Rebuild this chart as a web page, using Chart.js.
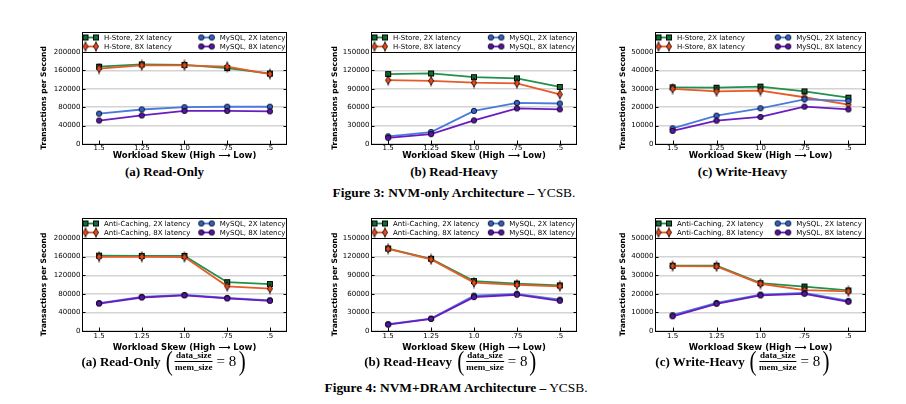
<!DOCTYPE html>
<html><head><meta charset="utf-8">
<script src="https://cdn.jsdelivr.net/npm/chart.js@4.4.0/dist/chart.umd.min.js"></script>
<style>
html,body{margin:0;padding:0;background:#fff;}
body{width:906px;height:404px;position:relative;overflow:hidden;}
canvas{position:absolute;}
.cap{position:absolute;transform:translate(-50%,-50%);font-family:'Liberation Serif','Times New Roman',serif;font-weight:bold;font-size:13px;white-space:nowrap;color:#000;line-height:1;}
.fig{position:absolute;transform:translate(-50%,-50%);font-family:'Liberation Serif','Times New Roman',serif;font-size:13.4px;white-space:nowrap;color:#000;line-height:1;}
.fig b{font-weight:bold;}
.cap2{position:absolute;transform:translate(-50%,-50%);font-family:'Liberation Serif','Times New Roman',serif;white-space:nowrap;color:#000;display:flex;align-items:center;line-height:1;}
.cap2 .t{font-weight:bold;font-size:13px;margin-right:4px;}
.cap2 .p{font-size:28px;font-weight:normal;transform:scaleX(0.75);display:inline-block;}
.cap2 .fr{display:inline-flex;flex-direction:column;align-items:center;font-weight:bold;font-size:9px;margin:0 1px;}
.cap2 .fr .n{border-bottom:1px solid #000;padding:0 1px 1px 1px;}
.cap2 .fr .d{padding-top:1px;}
.cap2 .e{font-size:15px;margin:0 1px 0 3px;}
</style></head><body>
<script>
// ---------- data ----------
const skewLabels = ['1.5', '1.25', '1.0', '.75', '.5'];
const skewPositions = [0, 1, 2, 3, 4];
const readOnlyTicks = [0, 40000, 80000, 120000, 160000, 200000];
const readHeavyTicks = [0, 30000, 60000, 90000, 120000, 150000];
const writeHeavyTicks = [0, 10000, 20000, 30000, 40000, 50000];

// Figure 3: NVM-only
const nvmReadOnlyHStore2x = [168000, 173000, 172000, 165000, 153000];
const nvmReadOnlyHStore8x = [164000, 171000, 171000, 168000, 152000];
const nvmReadOnlyMySQL2x = [66000, 75000, 80000, 81000, 81000];
const nvmReadOnlyMySQL8x = [51000, 62000, 72000, 72000, 71000];

const nvmReadHeavyHStore2x = [114000, 115000, 109000, 107000, 93000];
const nvmReadHeavyHStore8x = [104000, 103000, 100000, 99000, 81000];
const nvmReadHeavyMySQL2x = [12500, 19500, 54000, 67000, 66000];
const nvmReadHeavyMySQL8x = [10000, 16000, 38500, 58000, 56500];

const nvmWriteHeavyHStore2x = [30800, 30600, 31200, 28600, 25200];
const nvmWriteHeavyHStore8x = [30000, 28600, 29000, 25400, 21400];
const nvmWriteHeavyMySQL2x = [8500, 15400, 19400, 24300, 23400];
const nvmWriteHeavyMySQL8x = [7100, 12700, 14700, 20300, 18800];

// Figure 4: NVM+DRAM
const dramReadOnlyAC2x = [162000, 161500, 161500, 105000, 101000];
const dramReadOnlyAC8x = [159500, 159500, 159000, 96000, 91000];
const dramReadOnlyMySQL2x = [60000, 73500, 77500, 71000, 66000];
const dramReadOnlyMySQL8x = [59000, 72000, 76500, 70000, 65000];

const dramReadHeavyAC2x = [133000, 116500, 80500, 76500, 73500];
const dramReadHeavyAC8x = [132500, 115500, 78000, 74500, 72000];
const dramReadHeavyMySQL2x = [11000, 20000, 57000, 60000, 50500];
const dramReadHeavyMySQL8x = [10300, 19500, 54700, 58500, 48700];

const dramWriteHeavyAC2x = [35100, 35100, 25700, 23900, 21800];
const dramWriteHeavyAC8x = [34900, 34700, 25400, 22000, 21300];
const dramWriteHeavyMySQL2x = [8500, 15100, 19600, 20500, 16200];
const dramWriteHeavyMySQL8x = [7900, 14600, 19100, 20000, 15700];

// ---------- styles ----------
const C = {
  green: '#23904c', greenFill: '#0e6e30',
  red: '#e85a26', redFill: '#e8481a',
  blue: '#4a7bdc', blueFill: '#2f62c8',
  purple: '#6b1cc0', purpleFill: '#5b12a8'
};
function mk(w, h, draw) { const c = document.createElement('canvas'); c.width = w; c.height = h; draw(c.getContext('2d')); return c; }
const mSquare = mk(8, 8, g => { g.fillStyle = C.greenFill; g.fillRect(1, 1, 6, 6); g.strokeStyle = '#000'; g.lineWidth = 1; g.strokeRect(1.5, 1.5, 5, 5); });
const mDiamond = mk(8, 12, g => {
  g.strokeStyle = '#000'; g.lineWidth = 0.9;
  g.beginPath(); g.moveTo(4, 0.5); g.lineTo(4, 11.5); g.stroke();
  g.beginPath(); g.moveTo(4, 2); g.lineTo(6.6, 6); g.lineTo(4, 10); g.lineTo(1.4, 6); g.closePath();
  g.fillStyle = C.redFill; g.fill(); g.lineWidth = 0.8; g.stroke();
});
function circ(fill) { return mk(8, 8, g => { g.beginPath(); g.arc(4, 4, 2.7, 0, Math.PI * 2); g.fillStyle = fill; g.fill(); g.strokeStyle = '#000'; g.lineWidth = 0.8; g.stroke(); }); }
const mBlue = circ(C.blueFill), mPurple = circ(C.purpleFill);

const framePlugin = {
  id: 'frame',
  afterDraw(chart) {
    const { ctx, chartArea: { left, top, right, bottom } } = chart;
    const ys = chart.scales.y, xs = chart.scales.x;
    const o = chart.options.plugins.frame;
    ctx.save();
    ctx.strokeStyle = '#000'; ctx.lineWidth = 1;
    ctx.beginPath();
    ys.ticks.forEach(t => {
      const y = Math.round(ys.getPixelForValue(t.value)) + 0.5;
      ctx.moveTo(left, y); ctx.lineTo(left + 3.5, y);
      ctx.moveTo(right, y); ctx.lineTo(right - 3.5, y);
    });
    xs.ticks.forEach(t => {
      const x = Math.round(xs.getPixelForValue(t.value)) + 0.5;
      ctx.moveTo(x, bottom); ctx.lineTo(x, bottom - 3.5);
    });
    ctx.stroke();
    ctx.strokeRect(left + 0.5, top + 0.5, right - left - 1, bottom - top);
    // legend box above axes
    const lt = top - 20;
    ctx.fillStyle = '#fff';
    ctx.fillRect(left + 0.5, lt + 0.5, right - left - 1, 20);
    ctx.strokeRect(left + 0.5, lt + 0.5, right - left - 1, 20);
    const w = right - left;
    const cols = [left + 1.5, left + 0.572 * w];
    const rows = [top - 14.5, top - 5.5];
    ctx.font = '7px "DejaVu Sans"';
    ctx.textBaseline = 'middle';
    ctx.fillStyle = '#000';
    o.items.forEach((it, i) => {
      const x0 = cols[Math.floor(i / 2)], y = rows[i % 2];
      ctx.strokeStyle = it.color; ctx.lineWidth = 1.8;
      ctx.beginPath(); ctx.moveTo(x0 + 2, y); ctx.lineTo(x0 + 12.5, y); ctx.stroke();
      [x0 + 2, x0 + 12.5].forEach(mx => ctx.drawImage(it.marker, mx - it.marker.width / 2, y - it.marker.height / 2));
      ctx.fillStyle = '#000';
      ctx.fillText(it.label, x0 + 20.5, y + 0.5);
    });
    ctx.restore();
  }
};

function makeChart(p) {
  const cv = document.createElement('canvas');
  const cw = p.W + (p.R - p.L) + 6, ch = 21 + (p.B - p.T) + p.H;
  cv.width = cw; cv.height = ch;
  cv.style.left = (p.L - p.W) + 'px'; cv.style.top = (p.T - 21) + 'px';
  cv.style.width = cw + 'px'; cv.style.height = ch + 'px';
  document.body.appendChild(cv);
  const pts = arr => arr.map((v, i) => ({ x: skewPositions[i], y: v }));
  const ds = (arr, color, marker, order) => ({ data: pts(arr), borderColor: color, backgroundColor: color, borderWidth: 1.8, pointStyle: marker, pointRadius: 4, pointHoverRadius: 4, tension: 0, fill: false, order });
  const ticks = p.ticks;
  new Chart(cv, {
    type: 'line',
    data: {
      datasets: [
        ds(p.d[0], C.green, mSquare, 4),
        ds(p.d[1], C.red, mDiamond, 3),
        ds(p.d[2], C.blue, mBlue, 2),
        ds(p.d[3], C.purple, mPurple, 1)
      ]
    },
    options: {
      responsive: false, animation: false, devicePixelRatio: 1,
      layout: { padding: { top: 21, right: 6, left: 0, bottom: 0 } },
      plugins: {
        legend: { display: false }, tooltip: { enabled: false },
        frame: {
          items: [
            { label: p.store + ', 2X latency', color: C.green, marker: mSquare },
            { label: p.store + ', 8X latency', color: C.red, marker: mDiamond },
            { label: 'MySQL, 2X latency', color: C.blue, marker: mBlue },
            { label: 'MySQL, 8X latency', color: C.purple, marker: mPurple }
          ]
        }
      },
      scales: {
        x: {
          type: 'linear', min: -0.4, max: 4.4,
          afterBuildTicks: s => { s.ticks = skewPositions.map(v => ({ value: v })); },
          afterFit: s => { s.height = p.H; },
          ticks: { font: { family: 'DejaVu Sans', size: 7 }, color: '#000', padding: p.xpad, maxRotation: 0, autoSkip: false, callback: (v, i) => skewLabels[i] },
          grid: { display: false, drawTicks: false },
          border: { display: false },
          title: { display: true, text: 'Workload Skew (High \u27F6 Low)', font: { family: 'DejaVu Sans', size: 8.5, weight: 'bold' }, color: '#000', padding: 0 }
        },
        y: {
          min: 0, max: ticks[ticks.length - 1],
          afterBuildTicks: s => { s.ticks = ticks.map(v => ({ value: v })); },
          afterFit: s => { s.width = p.W; },
          ticks: { font: { family: 'DejaVu Sans', size: 7 }, color: '#000', padding: 1.5, callback: v => String(v) },
          grid: { color: '#d4d4d4', lineWidth: 1.4, drawTicks: false },
          border: { display: false },
          title: { display: true, text: 'Transactions per Second', font: { family: 'DejaVu Sans', size: 7.5, weight: 'bold' }, color: '#000', padding: 0 }
        }
      }
    },
    plugins: [framePlugin]
  });
}

makeChart({ L: 82, T: 52, R: 287, B: 144, W: 42, H: 17, xpad: 0, ticks: readOnlyTicks, store: 'H-Store', d: [nvmReadOnlyHStore2x, nvmReadOnlyHStore8x, nvmReadOnlyMySQL2x, nvmReadOnlyMySQL8x] });
makeChart({ L: 371, T: 52, R: 577, B: 144, W: 40, H: 17, xpad: 0, ticks: readHeavyTicks, store: 'H-Store', d: [nvmReadHeavyHStore2x, nvmReadHeavyHStore8x, nvmReadHeavyMySQL2x, nvmReadHeavyMySQL8x] });
makeChart({ L: 655, T: 52, R: 866, B: 144, W: 36, H: 17, xpad: 0, ticks: writeHeavyTicks, store: 'H-Store', d: [nvmWriteHeavyHStore2x, nvmWriteHeavyHStore8x, nvmWriteHeavyMySQL2x, nvmWriteHeavyMySQL8x] });
makeChart({ L: 82, T: 238, R: 287, B: 331, W: 42, H: 22, xpad: 1.3, ticks: readOnlyTicks, store: 'Anti-Caching', d: [dramReadOnlyAC2x, dramReadOnlyAC8x, dramReadOnlyMySQL2x, dramReadOnlyMySQL8x] });
makeChart({ L: 371, T: 238, R: 577, B: 331, W: 40, H: 22, xpad: 1.3, ticks: readHeavyTicks, store: 'Anti-Caching', d: [dramReadHeavyAC2x, dramReadHeavyAC8x, dramReadHeavyMySQL2x, dramReadHeavyMySQL8x] });
makeChart({ L: 655, T: 238, R: 866, B: 331, W: 36, H: 22, xpad: 1.3, ticks: writeHeavyTicks, store: 'Anti-Caching', d: [dramWriteHeavyAC2x, dramWriteHeavyAC8x, dramWriteHeavyMySQL2x, dramWriteHeavyMySQL8x] });

// ---------- captions ----------
function addDiv(cls, x, y, html) { const d = document.createElement('div'); d.className = cls; d.style.left = x + 'px'; d.style.top = y + 'px'; d.innerHTML = html; document.body.appendChild(d); }
addDiv('cap', 164.5, 171, '(a) Read-Only');
addDiv('cap', 454, 171, '(b) Read-Heavy');
addDiv('cap', 742.5, 171, '(c) Write-Heavy');
addDiv('fig', 454, 193, '<b>Figure 3: NVM-only Architecture \u2013</b> YCSB.');
const frac = '<span class="p">(</span><span class="fr"><span class="n">data_size</span><span class="d">mem_size</span></span><span class="e">= 8</span><span class="p">)</span>';
addDiv('cap2', 164, 361, '<span class="t">(a) Read-Only</span>' + frac);
addDiv('cap2', 451, 361, '<span class="t">(b) Read-Heavy</span>' + frac);
addDiv('cap2', 743, 361, '<span class="t">(c) Write-Heavy</span>' + frac);
addDiv('fig', 456, 388, '<b>Figure 4: NVM+DRAM Architecture \u2013</b> YCSB.');
</script>
</body></html>
